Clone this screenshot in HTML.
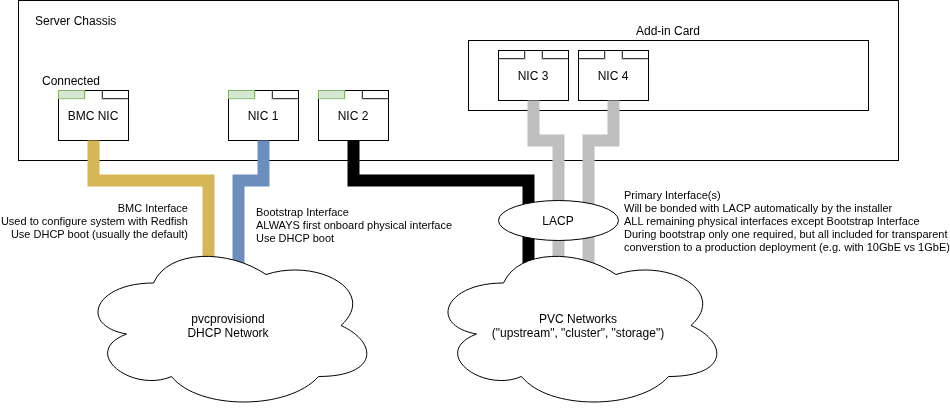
<!DOCTYPE html>
<html><head><meta charset="utf-8">
<style>
html,body{margin:0;padding:0;background:#fff;width:950px;height:411px;overflow:hidden}
svg{display:block;will-change:transform}
text{font-family:"Liberation Sans",sans-serif;fill:#000}
.s12{font-size:12px}
.s11{font-size:11px}
</style></head><body>
<svg width="950" height="411" viewBox="0 0 950 411">
<!-- chassis -->
<rect x="18.5" y="0.5" width="880" height="160" fill="#fff" stroke="#000"/>
<text class="s12" x="35" y="25">Server Chassis</text>
<!-- add-in card -->
<rect x="468.5" y="40.5" width="400" height="70" fill="#fff" stroke="#000"/>
<text class="s12" x="636" y="35">Add-in Card</text>
<text class="s12" x="42" y="85">Connected</text>

<!-- NIC boxes -->
<g id="nics">
<rect x="58.5" y="90.5" width="70" height="50" fill="#fff" stroke="#000"/>
<path d="M85.5 91.5V99.5H59.5" fill="none" stroke="#ecf4e9"/><rect x="58.5" y="90.5" width="26" height="8" fill="#d5e8d4" stroke="#82b366"/><path d="M58.5 98.5H84.5" fill="none" stroke="#9cc687"/>
<path d="M101.5 91.5V99.5H127.5" fill="none" stroke="#cfcfcf"/><path d="M102.5 90.5V98.5H128.5" fill="none" stroke="#3c3c3c"/>
<text class="s12" x="93" y="120" text-anchor="middle">BMC NIC</text>

<rect x="228.5" y="90.5" width="70" height="50" fill="#fff" stroke="#000"/>
<path d="M255.5 91.5V99.5H229.5" fill="none" stroke="#ecf4e9"/><rect x="228.5" y="90.5" width="26" height="8" fill="#d5e8d4" stroke="#82b366"/><path d="M228.5 98.5H254.5" fill="none" stroke="#9cc687"/>
<path d="M271.5 91.5V99.5H297.5" fill="none" stroke="#cfcfcf"/><path d="M272.5 90.5V98.5H298.5" fill="none" stroke="#3c3c3c"/>
<text class="s12" x="263" y="120" text-anchor="middle">NIC 1</text>

<rect x="318.5" y="90.5" width="70" height="50" fill="#fff" stroke="#000"/>
<path d="M345.5 91.5V99.5H319.5" fill="none" stroke="#ecf4e9"/><rect x="318.5" y="90.5" width="26" height="8" fill="#d5e8d4" stroke="#82b366"/><path d="M318.5 98.5H344.5" fill="none" stroke="#9cc687"/>
<path d="M361.5 91.5V99.5H387.5" fill="none" stroke="#cfcfcf"/><path d="M362.5 90.5V98.5H388.5" fill="none" stroke="#3c3c3c"/>
<text class="s12" x="353" y="120" text-anchor="middle">NIC 2</text>

<rect x="498.5" y="50.5" width="70" height="50" fill="#fff" stroke="#000"/>
<path d="M499.5 59.5H525.5V51.5" fill="none" stroke="#cfcfcf"/><path d="M498.5 58.5H524.5V50.5" fill="none" stroke="#3c3c3c"/>
<path d="M541.5 51.5V59.5H567.5" fill="none" stroke="#cfcfcf"/><path d="M542.5 50.5V58.5H568.5" fill="none" stroke="#3c3c3c"/>
<text class="s12" x="533" y="80" text-anchor="middle">NIC 3</text>

<rect x="578.5" y="50.5" width="70" height="50" fill="#fff" stroke="#000"/>
<path d="M579.5 59.5H605.5V51.5" fill="none" stroke="#cfcfcf"/><path d="M578.5 58.5H604.5V50.5" fill="none" stroke="#3c3c3c"/>
<path d="M621.5 51.5V59.5H647.5" fill="none" stroke="#cfcfcf"/><path d="M622.5 50.5V58.5H648.5" fill="none" stroke="#3c3c3c"/>
<text class="s12" x="613" y="80" text-anchor="middle">NIC 4</text>
</g>

<!-- pipes -->
<g fill="none" stroke-width="12" stroke-linejoin="miter" stroke-linecap="butt">
<path d="M93.5 140.5V180.5H208.5V262" stroke="#d6b656"/>
<path d="M263.5 140.5V180.5H238.5V268" stroke="#6c8ebf"/>
<path d="M353.5 140.5V180.5H528.5V268" stroke="#000"/>
<path d="M533.5 100.5V140.5H558.5V268" stroke="#bfbfbf"/>
<path d="M613.5 100.5V140.5H588.5V268" stroke="#bfbfbf"/>
</g>

<!-- LACP -->
<ellipse cx="558.5" cy="220.5" rx="60" ry="20" fill="#fff" stroke="#000"/>
<text class="s12" x="558" y="225" text-anchor="middle">LACP</text>

<!-- clouds -->
<path id="cl1" transform="translate(78.5,240.5)" fill="#fff" stroke="#000" d="M75 42.5C15 42.5 0 85 48 93.5C0 112.2 54 153 93 136C120 170 210 170 240 136C300 136 300 102 262.5 85C300 51 240 17 187.5 34C150 8.5 90 8.5 75 42.5Z"/>
<text class="s12" x="228" y="323" text-anchor="middle">pvcprovisiond</text>
<text class="s12" x="228" y="337" text-anchor="middle">DHCP Network</text>

<path transform="translate(428.5,240.5)" fill="#fff" stroke="#000" d="M75 42.5C15 42.5 0 85 48 93.5C0 112.2 54 153 93 136C120 170 210 170 240 136C300 136 300 102 262.5 85C300 51 240 17 187.5 34C150 8.5 90 8.5 75 42.5Z"/>
<text class="s12" x="578" y="323" text-anchor="middle">PVC Networks</text>
<text class="s12" x="578" y="337" text-anchor="middle">("upstream", "cluster", "storage")</text>

<!-- annotations -->
<g class="s11">
<text x="188" y="212" text-anchor="end">BMC Interface</text>
<text x="188" y="225" text-anchor="end">Used to configure system with Redfish</text>
<text x="188" y="238" text-anchor="end">Use DHCP boot (usually the default)</text>

<text x="256" y="216">Bootstrap Interface</text>
<text x="256" y="229">ALWAYS first onboard physical interface</text>
<text x="256" y="242">Use DHCP boot</text>

<text x="624" y="199">Primary Interface(s)</text>
<text x="624" y="212">Will be bonded with LACP automatically by the installer</text>
<text x="624" y="225">ALL remaining physical interfaces except Bootstrap Interface</text>
<text x="624" y="238">During bootstrap only one required, but all included for transparent</text>
<text x="624" y="251">converstion to a production deployment (e.g. with 10GbE vs 1GbE)</text>
</g>
</svg>
</body></html>
